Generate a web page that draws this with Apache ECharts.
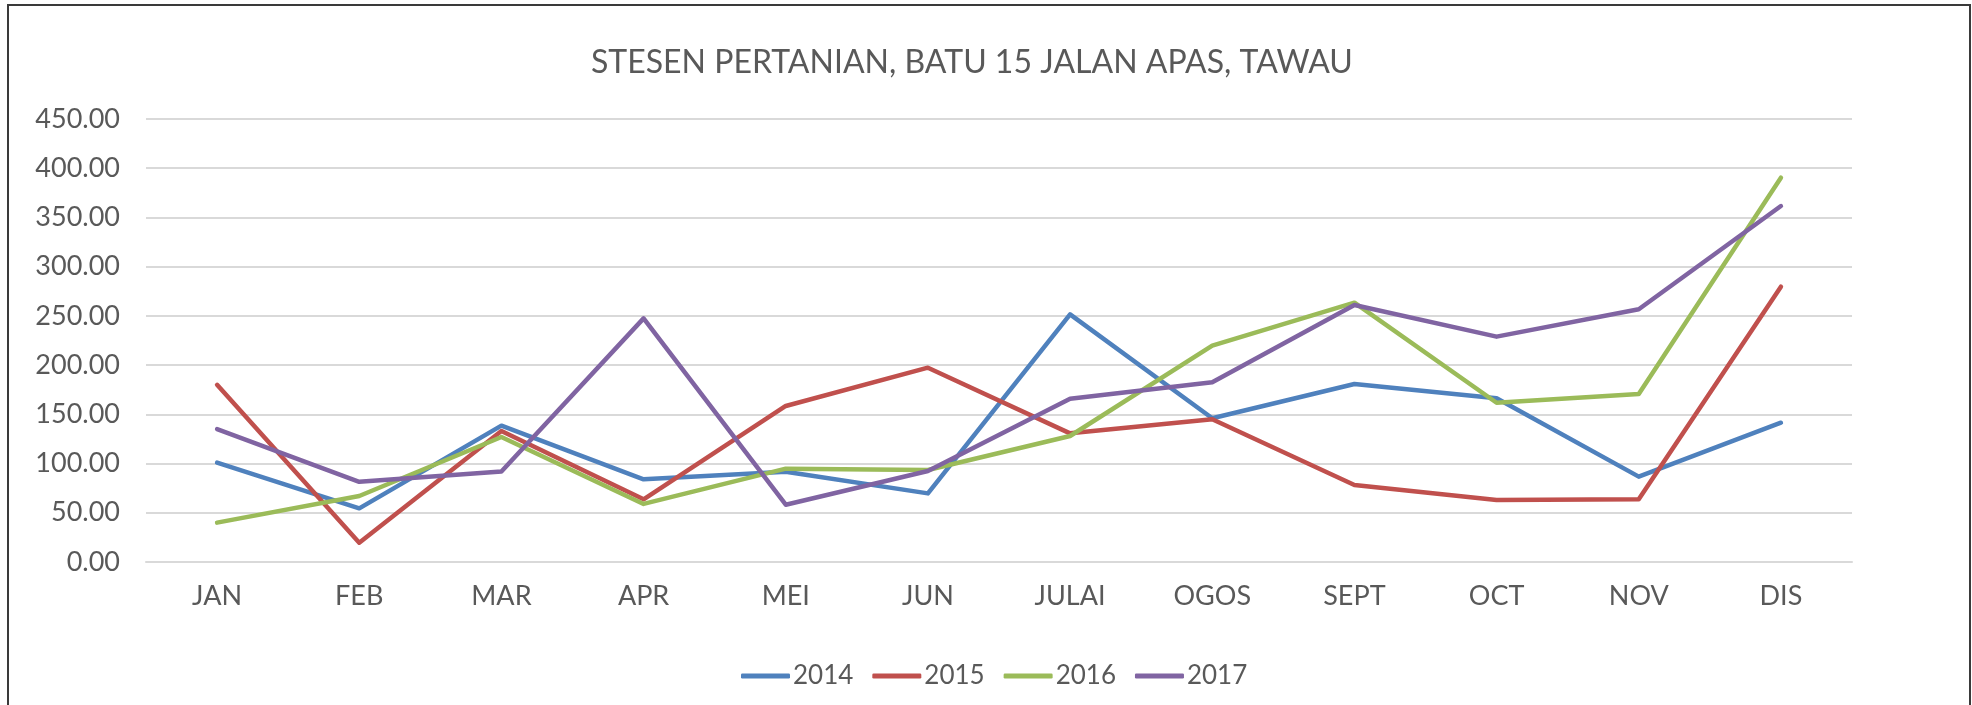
<!DOCTYPE html>
<html lang="ms">

<head>
    <meta charset="UTF-8">
    <title>Stesen Pertanian Tawau</title>
    <script src="https://cdn.jsdelivr.net/npm/echarts@6/dist/echarts.min.js"></script>
    <style>
        * {
            padding: 0;
            margin: 0;
        }

        body {
            width: 1972px;
            height: 705px;
            overflow: hidden;
            background: #fff;
            position: relative;
        }

        /* frame round the chart, bottom edge is off screen */
        .frame {
            position: absolute;
            left: 7px;
            top: 4px;
            width: 1960px;
            height: 800px;
            border: 2px solid #3a3a3a;
        }

        #main {
            position: absolute;
            left: 0;
            top: 0;
            width: 1972px;
            height: 705px;
        }
    </style>
</head>

<body>
    <div class="frame"></div>
    <div id="main"></div>

    <script>
        var months = ['JAN', 'FEB', 'MAR', 'APR', 'MEI', 'JUN', 'JULAI', 'OGOS', 'SEPT', 'OCT', 'NOV', 'DIS'];
        var y2014 = [101, 54.5, 138.5, 84, 91.7, 69.7, 251.6, 146, 180.8, 166.3, 86.7, 141.5];
        var y2015 = [180, 19.6, 133, 63.7, 158.5, 197.4, 130.7, 145, 78.2, 63, 63.7, 279.7];
        var y2016 = [40, 67, 127, 59, 94.8, 93.5, 128, 219.8, 263.4, 161.8, 170.7, 390.4];
        var y2017 = [135, 81.5, 92, 247.5, 58.2, 92.4, 165.9, 182.5, 261, 228.9, 256.7, 361.6];

        var txt = '#595959';
        var font = 'Lato';

        function line(name, data, color) {
            return {
                name: name,
                type: 'line',
                data: data,
                symbol: 'none',
                lineStyle: { width: 4.5, color: color, cap: 'round', join: 'round' },
                itemStyle: { color: color }
            };
        }

        var myChart = echarts.init(document.getElementById('main'));

        myChart.setOption({
            animation: false,
            title: {
                text: 'STESEN PERTANIAN, BATU 15 JALAN APAS, TAWAU',
                left: 586,
                top: 42,
                textStyle: { color: txt, fontFamily: font, fontWeight: 'normal', fontSize: 32 }
            },
            legend: {
                left: 736,
                top: 658,
                icon: 'roundRect',
                itemWidth: 49,
                itemHeight: 5,
                itemGap: 19,
                textStyle: { color: txt, fontFamily: font, fontSize: 26, padding: [0, 0, 0, -2] },
                data: ['2014', '2015', '2016', '2017']
            },
            grid: { left: 146, right: 120, top: 119, bottom: 143 },
            xAxis: {
                type: 'category',
                data: months,
                boundaryGap: true,
                axisLine: { lineStyle: { color: '#d9d9d9', width: 2 } },
                axisTick: { show: false },
                axisLabel: { color: txt, fontFamily: font, fontSize: 27, margin: 21 }
            },
            yAxis: {
                type: 'value',
                min: 0,
                max: 450,
                interval: 50,
                axisLine: { show: false },
                axisTick: { show: false },
                splitLine: { lineStyle: { color: '#d9d9d9', width: 2 } },
                axisLabel: {
                    color: txt, fontFamily: font, fontSize: 27, margin: 26,
                    formatter: function (v) { return v.toFixed(2); }
                }
            },
            series: [
                line('2014', y2014, '#4f81bd'),
                line('2015', y2015, '#c0504d'),
                line('2016', y2016, '#9bbb59'),
                line('2017', y2017, '#8064a2')
            ]
        });
    </script>
</body>

</html>
